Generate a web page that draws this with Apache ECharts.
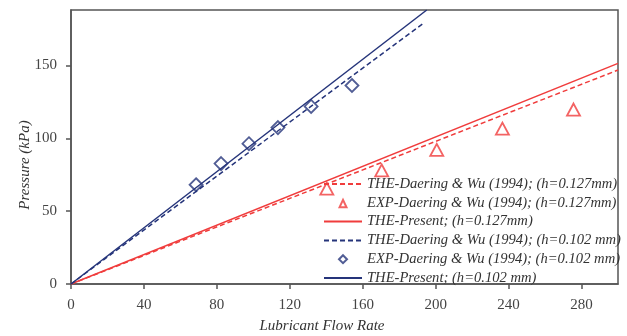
<!DOCTYPE html>
<html>
<head>
<meta charset="utf-8">
<script src="https://cdn.jsdelivr.net/npm/echarts@6/dist/echarts.min.js"></script>
<style>
html,body{margin:0;padding:0;background:#fff;}
#c{width:627px;height:336px;}
</style>
</head>
<body>
<div id="c"></div>
<script>
// ---- data ----
var seriesNames = [
  'THE-Daering & Wu (1994); (h=0.127mm)',
  'EXP-Daering & Wu (1994); (h=0.127mm)',
  'THE-Present; (h=0.127mm)',
  'THE-Daering & Wu (1994); (h=0.102 mm)',
  'EXP-Daering & Wu (1994); (h=0.102 mm)',
  'THE-Present; (h=0.102 mm)'
];
// red (h = 0.127 mm)
var redTheDaeringX = [0, 300];
var redTheDaeringY = [0, 146.8];
var redExpX = [140.3, 170.4, 200.6, 236.6, 275.6];
var redExpY = [65.4, 78.0, 92.0, 106.6, 119.7];
var redPresentX = [0, 300];
var redPresentY = [0, 151.4];
// blue (h = 0.102 mm)
var blueTheDaeringX = [0, 193.8];
var blueTheDaeringY = [0, 179.4];
var blueExpX = [68.6, 82.3, 97.6, 113.5, 131.7, 154.1];
var blueExpY = [68.1, 82.6, 96.3, 107.3, 121.8, 136.2];
var bluePresentX = [0, 195.1];
var bluePresentY = [0, 188];
// axes
var xMin = 0, xMax = 300, xStep = 40;
var yMin = 0, yMax = 188, yStep = 50;

function pairs(xs, ys) { return xs.map(function (x, i) { return [x, ys[i]]; }); }

var RED = '#f03c3c';
var BLUE = '#25347a';
var FONT = '"Liberation Serif", "Times New Roman", serif';

// small legend markers padded inside a wide box so they are not stretched
var triIcon = 'path://M0,0 M38,9 M15.5,9 L19,1.5 L22.5,9 Z';
var diaIcon = 'path://M0,0 M38,9 M19,0.5 L23,4.5 L19,8.5 L15,4.5 Z';

var legendData = [
  {name: seriesNames[0], itemStyle: {opacity: 0}},
  {name: seriesNames[1], icon: triIcon},
  {name: seriesNames[2], itemStyle: {opacity: 0}},
  {name: seriesNames[3], itemStyle: {opacity: 0}},
  {name: seriesNames[4], icon: diaIcon},
  {name: seriesNames[5], itemStyle: {opacity: 0}}
];

var chart = echarts.init(document.getElementById('c'), null, {renderer: 'canvas'});
chart.setOption({
  animation: false,
  backgroundColor: '#fff',
  grid: {left: 71, right: 9, top: 10, bottom: 52, show: true, borderColor: '#555', borderWidth: 1.5,
         containLabel: false, outerBoundsMode: 'none'},
  legend: {
    orient: 'vertical',
    left: 323,
    top: 176,
    itemWidth: 38,
    itemHeight: 9,
    itemGap: 2.8,
    padding: 0,
    textStyle: {fontFamily: FONT, fontStyle: 'italic', fontSize: 14.6, color: '#333', lineHeight: 16},
    data: legendData
  },
  xAxis: {
    type: 'value', min: xMin, max: xMax, interval: xStep,
    name: 'Lubricant Flow Rate', nameLocation: 'middle', nameGap: 35, nameMoveOverlap: false,
    nameTextStyle: {fontFamily: FONT, fontStyle: 'italic', fontSize: 15, color: '#333', padding: [0, 45, 0, 0]},
    axisLine: {lineStyle: {color: '#555', width: 1.5}},
    axisTick: {show: true, length: 5, lineStyle: {color: '#555', width: 1.5}},
    axisLabel: {fontFamily: FONT, fontSize: 15, color: '#444', margin: 14, showMaxLabel: false},
    splitLine: {show: false}
  },
  yAxis: {
    type: 'value', min: yMin, max: yMax, interval: yStep,
    name: 'Pressure (kPa)', nameLocation: 'middle', nameGap: 38, nameMoveOverlap: false,
    nameTextStyle: {fontFamily: FONT, fontStyle: 'italic', fontSize: 15, color: '#333', padding: [0, 36, 0, 0]},
    nameRotate: 90,
    axisLine: {lineStyle: {color: '#555', width: 1.5}},
    axisTick: {show: true, length: 5, lineStyle: {color: '#555', width: 1.5}},
    axisLabel: {fontFamily: FONT, fontSize: 15, color: '#444', margin: 14, showMaxLabel: false},
    splitLine: {show: false}
  },
  series: [
    {name: seriesNames[0], type: 'line', symbol: 'circle', showSymbol: false, data: pairs(redTheDaeringX, redTheDaeringY),
     lineStyle: {color: RED, width: 1.5, type: [5, 3]}, itemStyle: {color: RED}},
    {name: seriesNames[1], type: 'scatter', symbol: 'triangle', symbolSize: [13, 12], data: pairs(redExpX, redExpY),
     itemStyle: {color: '#fff', borderColor: RED, borderWidth: 1.8}},
    {name: seriesNames[2], type: 'line', symbol: 'circle', showSymbol: false, data: pairs(redPresentX, redPresentY),
     lineStyle: {color: RED, width: 1.5}, itemStyle: {color: RED}},
    {name: seriesNames[3], type: 'line', symbol: 'circle', showSymbol: false, data: pairs(blueTheDaeringX, blueTheDaeringY),
     lineStyle: {color: BLUE, width: 1.5, type: [5, 3]}, itemStyle: {color: BLUE}},
    {name: seriesNames[4], type: 'scatter', symbol: 'diamond', symbolSize: [13, 13], data: pairs(blueExpX, blueExpY),
     itemStyle: {color: '#fff', borderColor: BLUE, borderWidth: 1.8}},
    {name: seriesNames[5], type: 'line', symbol: 'circle', showSymbol: false, data: pairs(bluePresentX, bluePresentY),
     lineStyle: {color: BLUE, width: 1.5}, itemStyle: {color: BLUE}}
  ]
});
</script>
</body>
</html>
